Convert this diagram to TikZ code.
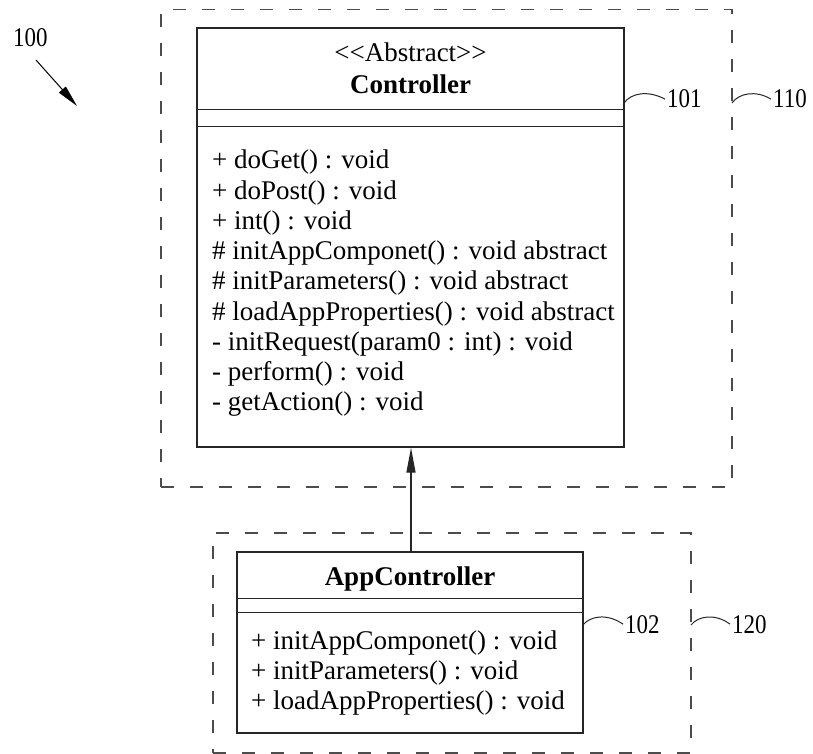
\documentclass[tikz,border=0pt]{standalone}
\usepackage{fontspec}
\setmainfont{Liberation Serif}
\newfontfamily\numfont[FakeStretch=0.85]{Liberation Serif}
\usetikzlibrary{arrows.meta,calc}
\begin{document}
\begin{tikzpicture}[x=1pt,y=-1pt,
  umlbox/.style={draw=black!85,line width=1.3pt,inner sep=0pt},
  grpbox/.style={draw=black!70,line width=1.3pt,dash pattern=on 13pt off 16pt,inner sep=0pt},
  sepline/.style={draw=black!85,line width=1.3pt},
  member/.style={anchor=base west,inner sep=0pt,font=\fontsize{27}{30}\selectfont},
  ttl/.style={anchor=base,inner sep=0pt,font=\fontsize{27}{30}\selectfont},
  ttlb/.style={anchor=base,inner sep=0pt,font=\fontsize{27}{30}\selectfont\bfseries},
  refnum/.style={anchor=base west,inner sep=0pt,font=\fontsize{27}{30}\selectfont\numfont},
  leader/.style={draw=black!85,line width=1pt},
  inherit/.style={draw=black!85,line width=1.3pt,-{Triangle[length=25pt,width=9pt]}},
  pointer/.style={draw=black,line width=1pt,-{Triangle[length=22pt,width=9pt]}}]
\useasboundingbox (0,0) rectangle (813,754);

% group boxes
\node[grpbox,minimum width=571pt,minimum height=477.5pt] (g110) at (446.5,248.25) {};
\node[grpbox,minimum width=478pt,minimum height=220pt] (g120) at (452,643) {};

% Controller class
\node[umlbox,minimum width=427pt,minimum height=419pt] (ctrl) at (410.5,237.5) {};
\draw[sepline] ([yshift=-82pt]ctrl.north west) -- ([yshift=-82pt]ctrl.north east);
\draw[sepline] ([yshift=-99pt]ctrl.north west) -- ([yshift=-99pt]ctrl.north east);
\node[ttl] (cst) at (410.5,62) {\textless\kern0pt\textless\kern0pt Abstract\kern0pt\textgreater\kern0pt\textgreater};
\node[ttlb] (cname) at (410.5,94) {Controller};
\node[member] (m1) at (212,169) {+ doGet() : void};
\node[member] (m2) at (212,199.2) {+ doPost() : void};
\node[member] (m3) at (212,229.4) {+ int() : void};
\node[member] (m4) at (212,259.6) {\# initAppComponet() : void abstract};
\node[member] (m5) at (212,289.8) {\# initParameters() : void abstract};
\node[member] (m6) at (212,320) {\# loadAppProperties() : void abstract};
\node[member] (m7) at (212,350.2) {- initRequest(param0 : int) : void};
\node[member] (m8) at (212,380.4) {- perform() : void};
\node[member] (m9) at (212,410.6) {- getAction() : void};

% AppController class
\node[umlbox,minimum width=346pt,minimum height=181pt] (app) at (410,642.5) {};
\draw[sepline] ([yshift=-47pt]app.north west) -- ([yshift=-47pt]app.north east);
\draw[sepline] ([yshift=-61pt]app.north west) -- ([yshift=-61pt]app.north east);
\node[ttlb] (aname) at (410,585) {AppController};
\node[member] (a1) at (251,649) {+ initAppComponet() : void};
\node[member] (a2) at (251,679) {+ initParameters() : void};
\node[member] (a3) at (251,709) {+ loadAppProperties() : void};

% inheritance
\draw[inherit] (app.north -| 411,0) -- (ctrl.south -| 411,0);

% reference numerals
\node[refnum] (t100) at (13,47) {100};
\coordinate (p100s) at (36,60);
\coordinate (p100e) at (77,106);
\draw[pointer] (p100s) -- (p100e);

\node[refnum] (t101) at (667,108) {101};
\node[refnum] (t110) at (773,108) {110};
\node[refnum] (t102) at (625,633) {102};
\node[refnum] (t120) at (732,633) {120};

\coordinate (c101) at (624,103);
\coordinate (c110) at (732,103);
\coordinate (c102) at (583,625);
\coordinate (c120) at (691,625);

\draw[leader] (c101) .. controls (631,93) and (648,90) .. ([xshift=-2pt]t101.west);
\draw[leader] (c110) .. controls (739,93) and (756,90) .. ([xshift=-2pt]t110.west);
\draw[leader] (c102) .. controls (590,616) and (607,613) .. ([xshift=-2pt]t102.west);
\draw[leader] (c120) .. controls (698,616) and (715,613) .. ([xshift=-2pt]t120.west);
\end{tikzpicture}
\end{document}
